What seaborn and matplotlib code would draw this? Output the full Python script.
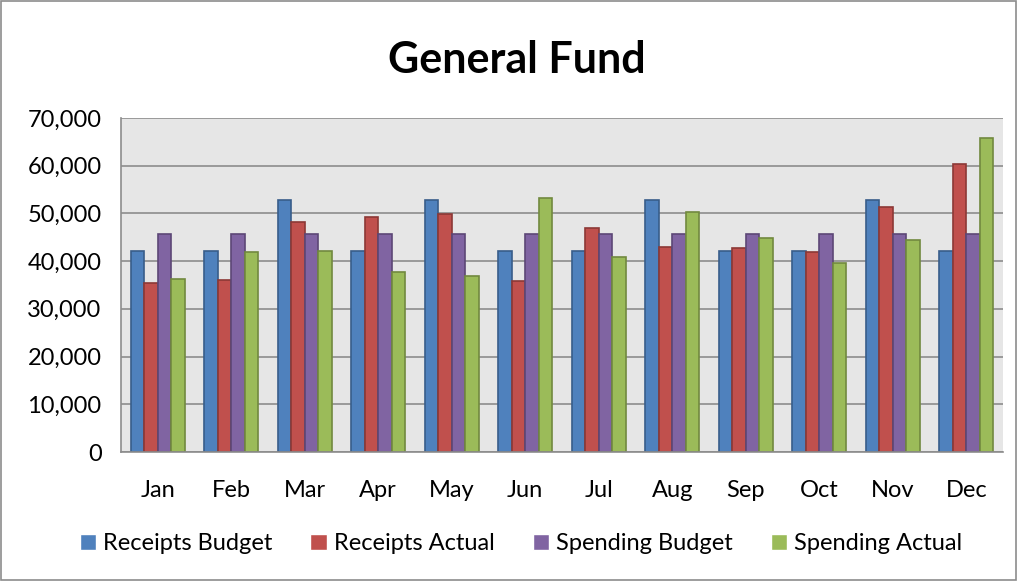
import pandas as pd
import seaborn as sns
import matplotlib.pyplot as plt
from matplotlib.patches import Rectangle

# Data
months = ["Jan", "Feb", "Mar", "Apr", "May", "Jun", "Jul", "Aug", "Sep", "Oct", "Nov", "Dec"]
receipts_budget = [42150, 42150, 52800, 42150, 52800, 42150, 42150, 52800, 42150, 42150, 52800, 42150]
receipts_actual = [35450, 36100, 48200, 49300, 49900, 35900, 47000, 43000, 42700, 42000, 51300, 60400]
spending_budget = [45700, 45700, 45700, 45700, 45700, 45700, 45700, 45700, 45700, 45700, 45700, 45700]
spending_actual = [36300, 41900, 42100, 37750, 36800, 53200, 40800, 50300, 44800, 39700, 44400, 65900]

series = ["Receipts Budget", "Receipts Actual", "Spending Budget", "Spending Actual"]
colors = ["#4F81BD", "#C0504D", "#8064A2", "#9BBB59"]
edges = ["#385D8A", "#8C3836", "#5C4776", "#71893F"]

rows = []
for name, vals in zip(series, [receipts_budget, receipts_actual, spending_budget, spending_actual]):
    for m, v in zip(months, vals):
        rows.append({"Month": m, "Series": name, "Value": v})
df = pd.DataFrame(rows)

sns.set_style("white")
plt.rcParams["font.family"] = ["Lato", "DejaVu Sans"]
plt.rcParams["text.color"] = "black"

fig = plt.figure(figsize=(10.18, 5.81), dpi=100)
ax = fig.add_axes([0.1189, 0.222, 0.8664, 0.575])
ax.set_facecolor("#E6E6E6")

sns.barplot(data=df, x="Month", y="Value", hue="Series", order=months,
            hue_order=series, palette=colors, width=0.74, gap=0,
            saturation=1, ax=ax, legend=True)

for cont, ec in zip(ax.containers, edges):
    for bar in cont:
        bar.set_edgecolor(ec)
        bar.set_linewidth(1.2)

ax.set_xlim(-0.5, 11.5)
ax.set_ylim(0, 70000)
ax.set_yticks(range(0, 70001, 10000))
ax.set_yticklabels([f"{v:,}" for v in range(0, 70001, 10000)])
ax.yaxis.grid(True, color="#8C8C8C", linewidth=1.2)
ax.set_axisbelow(True)

ax.set_xticks(range(12))
ax.set_xticks([i + 0.5 for i in range(-1, 12)], minor=True)
ax.tick_params(axis="x", which="major", length=0, pad=20, labelsize=17, labelcolor="black")
ax.tick_params(axis="x", which="minor", length=7, color="#8C8C8C", width=1.2, direction="out")
ax.tick_params(axis="y", length=6, color="#8C8C8C", width=1.2, direction="out",
               labelsize=17, pad=8, labelcolor="black")

for s in ["top", "right"]:
    ax.spines[s].set_visible(False)
for s in ["left", "bottom"]:
    ax.spines[s].set_color("#8C8C8C")
    ax.spines[s].set_linewidth(1.2)

ax.set_xlabel("")
ax.set_ylabel("")

handles, labels = ax.get_legend_handles_labels()
ax.get_legend().remove()
fig.legend(handles, labels, loc="center", bbox_to_anchor=(521 / 1018, 0.064),
           ncol=4, frameon=False, fontsize=17, handlelength=0.7, handleheight=0.7,
           handletextpad=0.3, columnspacing=1.6, labelcolor="black")

fig.text(0.508, 0.897, "General Fund", ha="center", va="center",
         fontsize=31, fontweight="bold", color="black")

# outer chart border
fig.patches.append(Rectangle((0.001, 0.002), 0.997, 0.996, transform=fig.transFigure,
                             fill=False, edgecolor="#8C8C8C", linewidth=1.2))

plt.savefig("out.png", dpi=100)
